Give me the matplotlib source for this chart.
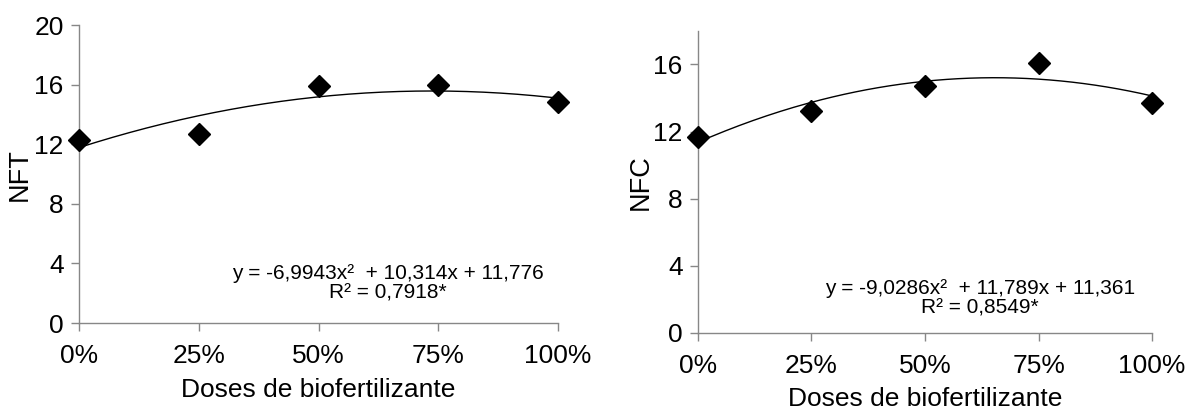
import matplotlib
matplotlib.use("Agg")
import matplotlib.pyplot as plt
import numpy as np

plt.rcParams['font.family'] = ['Liberation Sans', 'DejaVu Sans']

doses = [0.0, 0.25, 0.50, 0.75, 1.0]
dose_labels = ['0%', '25%', '50%', '75%', '100%']

nft = [12.3, 12.7, 15.9, 16.0, 14.85]
nfc = [11.7, 13.2, 14.7, 16.1, 13.7]

# coeficientes das equacoes mostradas no grafico
coef_nft = [-6.9943, 10.314, 11.776]
coef_nfc = [-9.0286, 11.789, 11.361]

eq_nft = 'y = -6,9943x²  + 10,314x + 11,776\nR² = 0,7918*'
eq_nfc = 'y = -9,0286x²  + 11,789x + 11,361\nR² = 0,8549*'

gray = '#878787'

fig = plt.figure(figsize=(11.89, 4.12), dpi=100)
ax1 = fig.add_axes([0.0664, 0.216, 0.403, 0.723])
ax2 = fig.add_axes([0.587, 0.192, 0.382, 0.733])


def painel(ax, y, coef, eq, ylim, ylabel, eq_pos):
    xx = np.linspace(0, 1, 200)
    ax.plot(xx, np.polyval(coef, xx), color='black', lw=1.0, zorder=2)
    ax.plot(doses, y, 'D', color='black', markersize=11, clip_on=False, zorder=3)
    ax.set_xlim(0, 1)
    ax.set_ylim(*ylim)
    ax.set_yticks([0, 4, 8, 12, 16] + ([20] if ylim[1] >= 20 else []))
    ax.set_xticks(doses)
    ax.set_xticklabels(dose_labels)
    for s in ['top', 'right']:
        ax.spines[s].set_visible(False)
    for s in ['left', 'bottom']:
        ax.spines[s].set_color(gray)
        ax.spines[s].set_linewidth(1.0)
    ax.tick_params(colors=gray, labelcolor='black', labelsize=19, length=6, width=1.0)
    ax.tick_params(axis='x', pad=9)
    ax.tick_params(axis='y', pad=5)
    ax.set_xlabel('Doses de biofertilizante', fontsize=19, labelpad=7)
    ax.set_ylabel(ylabel, fontsize=19.5)
    ax.yaxis.set_label_coords(-0.097, 0.5)
    ax.text(eq_pos[0], eq_pos[1], eq, transform=ax.transAxes, fontsize=15,
            ha='center', va='center', linespacing=1.05)


painel(ax1, nft, coef_nft, eq_nft, (0, 20), 'NFT', (0.644, 0.134))
painel(ax2, nfc, coef_nfc, eq_nfc, (0, 18), 'NFC', (0.621, 0.114))

fig.savefig('out.png', dpi=100)
